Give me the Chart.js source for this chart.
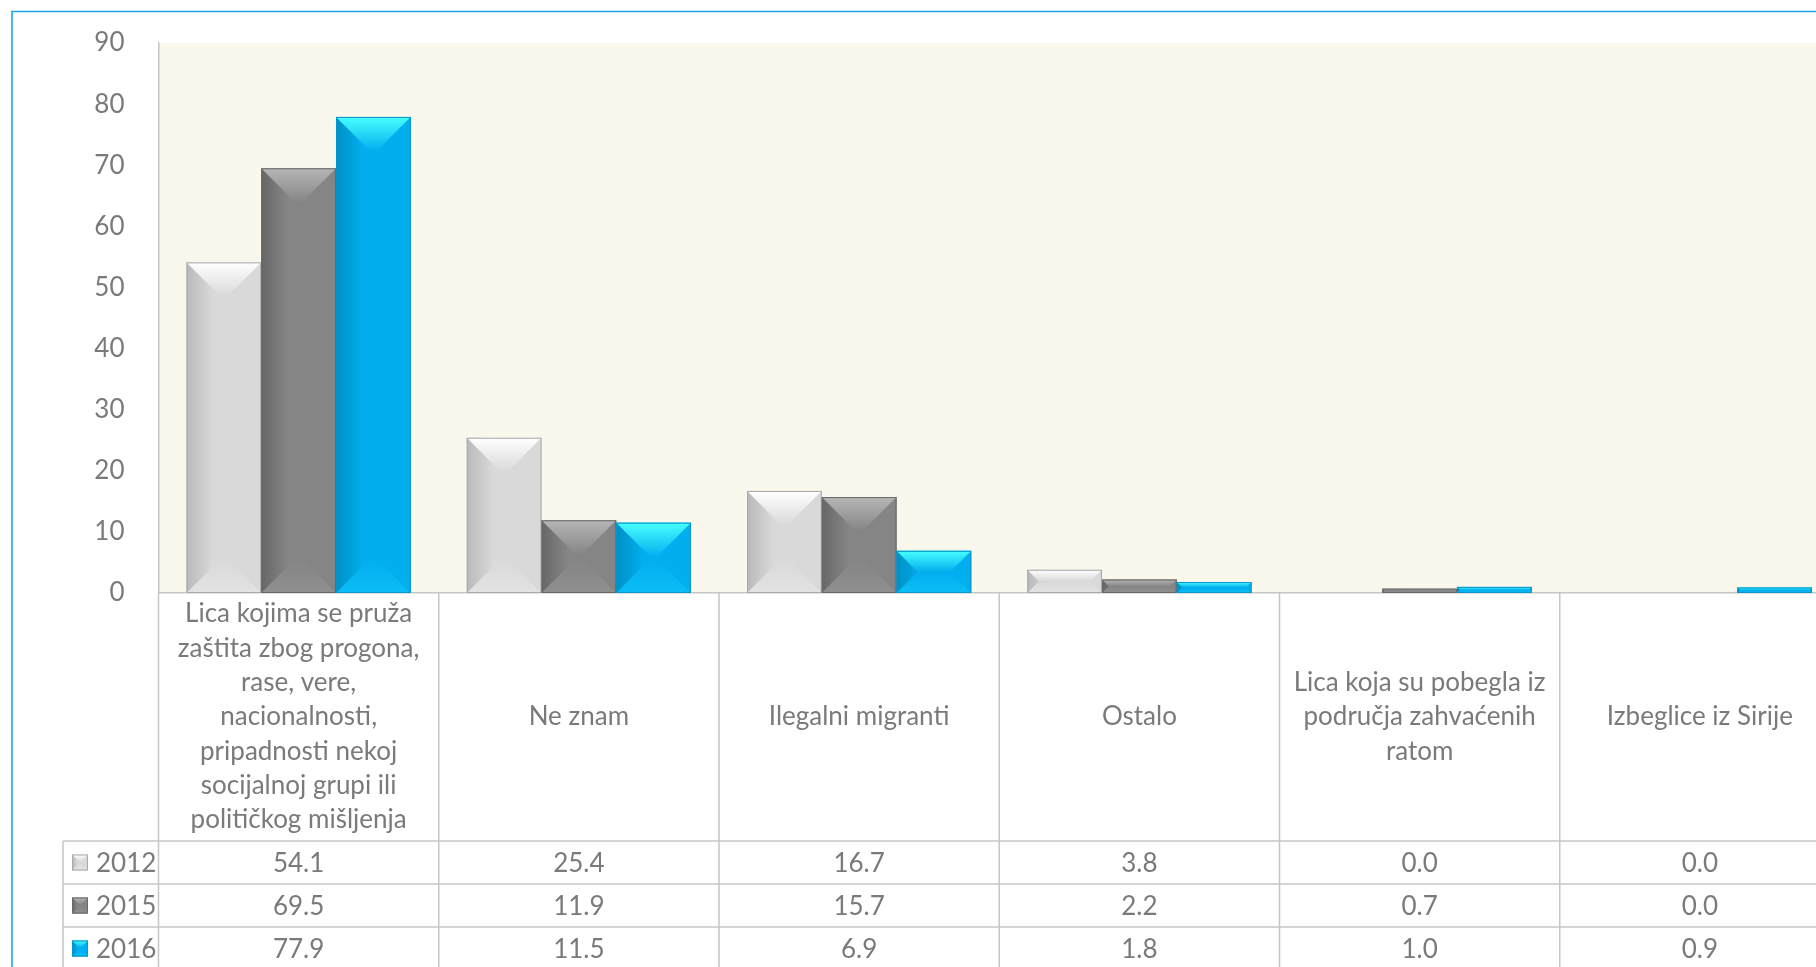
<!DOCTYPE html>
<html>
<head>
<meta charset="utf-8">
<script src="https://cdn.jsdelivr.net/npm/chart.js@4.4.1/dist/chart.umd.min.js"></script>
<style>
	html, body { margin: 0; padding: 0; background: #fff; overflow: hidden; }
	#wrap { position: relative; width: 1860px; height: 967px; }
</style>
</head>
<body>
<div id="wrap"><canvas id="chart" width="1860" height="967"></canvas></div>
<script>
/* ==========================================================================
 Data
 ========================================================================== */

const categories = [
	['Lica kojima se pruža', 'zaštita zbog progona,', 'rase, vere,', 'nacionalnosti,', 'pripadnosti nekoj', 'socijalnoj grupi ili', 'političkog mišljenja'],
	['Ne znam'],
	['Ilegalni migranti'],
	['Ostalo'],
	['Lica koja su pobegla iz', 'područja zahvaćenih', 'ratom'],
	['Izbeglice iz Sirije'],
];
const seriesNames = ['2012', '2015', '2016'];
const values2012 = [54.1, 25.4, 16.7, 3.8, 0.0, 0.0];
const values2015 = [69.5, 11.9, 15.7, 2.2, 0.7, 0.0];
const values2016 = [77.9, 11.5, 6.9, 1.8, 1.0, 0.9];
const yTicks = [0, 10, 20, 30, 40, 50, 60, 70, 80, 90];

/* ==========================================================================
 Styles
 ========================================================================== */

const FONT = "'Lato', 'Noto Sans', sans-serif";
const FONT_SIZE = 26;
const TEXT = '#7a7a7a';
const LINE = '#c6c6c6';
const PLOT_BG = '#faf7ed';
const FRAME = '#1aa8e2';

// light grey, dark grey, blue
const palettes = [
	{base: '#d9d9d9', dark: '#b9b9b9', top: '#ffffff', bottom: '#e3e3e3', edge: '#a9a9a9'},
	{base: '#858585', dark: '#676767', top: '#b6b6b6', bottom: '#8f8f8f', edge: '#696969'},
	{base: '#02aeee', dark: '#0090c6', top: '#48ffff', bottom: '#0abdf6', edge: '#0895c9'},
];

// table geometry (px)
const labelAreaBottom = 841;
const rowHeight = 43;
const legendLeft = 63;
const labelLineHeight = 34.3;

/* ==========================================================================
 Bevelled bar
 ========================================================================== */

const drawBevel = (ctx, x0, x1, y0, y1, pal) => {
	const w = x1 - x0;
	const h = y1 - y0;
	if (h < 0.5) return;
	const b = Math.min(w * 0.46, h / 2);
	ctx.save();

	// body
	let g = ctx.createLinearGradient(x0, 0, x1, 0);
	g.addColorStop(0, pal.dark);
	g.addColorStop(0.35, pal.base);
	g.addColorStop(1, pal.base);
	ctx.fillStyle = g;
	ctx.fillRect(x0, y0, w, h);

	// top face
	g = ctx.createLinearGradient(0, y0, 0, y0 + b);
	g.addColorStop(0, pal.top);
	g.addColorStop(1, pal.base);
	ctx.fillStyle = g;
	ctx.beginPath();
	ctx.moveTo(x0, y0);
	ctx.lineTo(x1, y0);
	ctx.lineTo(x1 - b, y0 + b);
	ctx.lineTo(x0 + b, y0 + b);
	ctx.closePath();
	ctx.fill();

	// bottom face
	g = ctx.createLinearGradient(0, y1 - b, 0, y1);
	g.addColorStop(0, pal.base);
	g.addColorStop(1, pal.bottom);
	ctx.fillStyle = g;
	ctx.beginPath();
	ctx.moveTo(x0, y1);
	ctx.lineTo(x1, y1);
	ctx.lineTo(x1 - b, y1 - b);
	ctx.lineTo(x0 + b, y1 - b);
	ctx.closePath();
	ctx.fill();

	// outline
	ctx.strokeStyle = pal.edge;
	ctx.lineWidth = 1;
	ctx.strokeRect(x0 + 0.5, y0 + 0.5, w - 1, h - 1);
	ctx.restore();
};

/* ==========================================================================
 Plugins
 ========================================================================== */

const backgroundPlugin = {
	id: 'plotBackground',
	beforeDraw(chart) {
		const {ctx, chartArea: a} = chart;
		ctx.save();
		ctx.fillStyle = PLOT_BG;
		ctx.fillRect(a.left, a.top, a.right - a.left, a.bottom - a.top);
		ctx.restore();
	}
};

const bevelPlugin = {
	id: 'bevelBars',
	afterDatasetsDraw(chart) {
		const {ctx} = chart;
		chart.data.datasets.forEach((ds, di) => {
			chart.getDatasetMeta(di).data.forEach(el => {
				const {x, y, base, width} = el.getProps(['x', 'y', 'base', 'width'], true);
				drawBevel(ctx, x - width / 2, x + width / 2, y, base, palettes[di]);
			});
		});
	}
};

const tablePlugin = {
	id: 'dataTable',
	afterDraw(chart) {
		const {ctx, chartArea: a, scales: {x}} = chart;
		const colW = x.getPixelForValue(1) - x.getPixelForValue(0);
		const bottom = chart.height + 10;
		const rowsTop = labelAreaBottom;

		ctx.save();
		ctx.strokeStyle = LINE;
		ctx.lineWidth = 1.5;

		// horizontal rules
		ctx.beginPath();
		for (let r = 0; r <= seriesNames.length; r++) {
			const yy = rowsTop + r * rowHeight;
			ctx.moveTo(legendLeft, yy);
			ctx.lineTo(a.right, yy);
		}
		// vertical rules
		ctx.moveTo(legendLeft, rowsTop);
		ctx.lineTo(legendLeft, bottom);
		for (let i = 0; i <= categories.length; i++) {
			const xx = a.left + i * colW;
			ctx.moveTo(xx, a.bottom);
			ctx.lineTo(xx, bottom);
		}
		ctx.stroke();

		ctx.font = FONT_SIZE + 'px ' + FONT;
		ctx.textBaseline = 'middle';

		// category labels
		ctx.fillStyle = TEXT;
		ctx.textAlign = 'center';
		const midLabel = (a.bottom + rowsTop) / 2;
		categories.forEach((lines, i) => {
			const cx = x.getPixelForValue(i);
			const start = midLabel - (lines.length - 1) * labelLineHeight / 2;
			lines.forEach((ln, k) => ctx.fillText(ln, cx, start + k * labelLineHeight));
		});

		// value rows
		chart.data.datasets.forEach((ds, di) => {
			const cy = rowsTop + di * rowHeight + rowHeight / 2;

			// legend key
			drawBevel(ctx, 72, 88, cy - 8, cy + 8, palettes[di]);

			ctx.fillStyle = TEXT;
			ctx.textAlign = 'left';
			ctx.fillText(ds.label, 96, cy + 1);

			ctx.textAlign = 'center';
			ds.data.forEach((v, i) => {
				ctx.fillText(v.toFixed(1), x.getPixelForValue(i), cy + 1);
			});
		});

		// outer frame
		ctx.strokeStyle = FRAME;
		ctx.lineWidth = 1.6;
		ctx.beginPath();
		ctx.moveTo(12, chart.height + 5);
		ctx.lineTo(12, 11.5);
		ctx.lineTo(chart.width + 5, 11.5);
		ctx.stroke();
		ctx.restore();
	}
};

/* ==========================================================================
 Config
 ========================================================================== */

const data = {
	labels: categories,
	datasets: [
		{label: seriesNames[0], data: values2012, backgroundColor: palettes[0].base},
		{label: seriesNames[1], data: values2015, backgroundColor: palettes[1].base},
		{label: seriesNames[2], data: values2016, backgroundColor: palettes[2].base},
	],
};

const config = {
	type: 'bar',
	data: data,
	options: {
		responsive: false,
		animation: false,
		layout: {
			padding: {left: 0, top: 43, right: 20, bottom: 374},
		},
		datasets: {
			bar: {
				barPercentage: 1,
				categoryPercentage: 0.8,
				borderWidth: 0,
			},
		},
		scales: {
			x: {
				ticks: {display: false},
				grid: {display: false},
				border: {display: true, color: LINE, width: 1.5},
				afterFit(scale) {
					scale.height = 0;
				},
			},
			y: {
				min: 0,
				max: 90,
				afterBuildTicks(scale) {
					scale.ticks = yTicks.map(v => ({value: v}));
				},
				ticks: {
					color: TEXT,
					padding: 26,
					font: {size: FONT_SIZE, family: FONT},
				},
				grid: {display: false},
				border: {display: true, color: LINE, width: 1.5},
				afterFit(scale) {
					scale.width = 158.5;
				},
			},
		},
		plugins: {
			legend: {display: false},
			tooltip: {enabled: false},
		},
	},
	plugins: [backgroundPlugin, bevelPlugin, tablePlugin],
};

/* ==========================================================================
 Render
 ========================================================================== */

new Chart(document.getElementById('chart'), config);
</script>
</body>
</html>
